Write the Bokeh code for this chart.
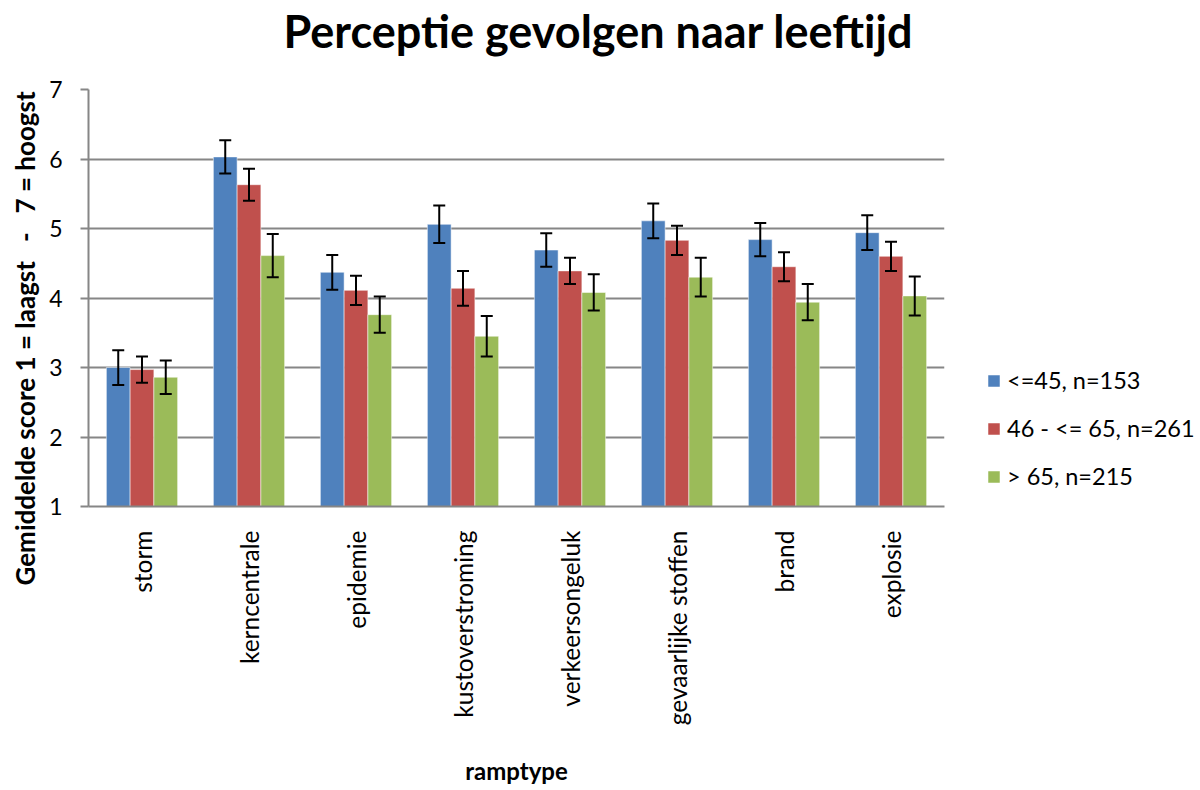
import math
from bokeh.plotting import figure
from bokeh.models import (ColumnDataSource, FactorRange, Range1d, Legend, LegendItem,
                          Whisker, TeeHead, Title, SingleIntervalTicker)
from bokeh.transform import dodge
from bokeh.embed import file_html
from bokeh.resources import INLINE

categories = ["storm", "kerncentrale", "epidemie", "kustoverstroming",
              "verkeersongeluk", "gevaarlijke stoffen", "brand", "explosie"]
series_names = ["<=45, n=153", "46 - <= 65, n=261", "> 65, n=215"]
young = [3.00, 6.03, 4.37, 5.06, 4.69, 5.11, 4.84, 4.94]
middle = [2.97, 5.63, 4.11, 4.14, 4.39, 4.83, 4.45, 4.60]
old = [2.86, 4.61, 3.76, 3.45, 4.08, 4.30, 3.94, 4.03]
young_err = [0.25, 0.24, 0.25, 0.27, 0.24, 0.25, 0.24, 0.25]
middle_err = [0.19, 0.23, 0.21, 0.25, 0.19, 0.21, 0.21, 0.21]
old_err = [0.24, 0.31, 0.26, 0.29, 0.26, 0.28, 0.26, 0.28]
colors = ["#4F81BD", "#C0504D", "#9BBB59"]

FONT = "Lato"

p = figure(x_range=FactorRange(*categories), y_range=Range1d(1, 7),
           frame_width=856, frame_height=417, output_backend="svg", toolbar_location=None,
           min_border_left=85, min_border_top=89, min_border_right=259,
           min_border_bottom=284)
p.outline_line_color = None
p.background_fill_color = "white"
p.border_fill_color = "white"

offsets = [-0.222, 0.0, 0.222]
vals = [young, middle, old]
errs = [young_err, middle_err, old_err]
items = []
for name, v, e, off, col in zip(series_names, vals, errs, offsets, colors):
    src = ColumnDataSource(dict(cat=categories, val=v,
                                upper=[a + b for a, b in zip(v, e)],
                                lower=[a - b for a, b in zip(v, e)]))
    r = p.vbar(x=dodge("cat", off, range=p.x_range), top="val", bottom=1, width=0.222,
               source=src, fill_color=col, line_color="white", line_alpha=0.5, line_width=1)
    w = Whisker(base=dodge("cat", off, range=p.x_range), upper="upper", lower="lower",
                source=src, line_color="black", line_width=2, level="annotation",
                upper_head=TeeHead(size=12, line_color="black", line_width=2),
                lower_head=TeeHead(size=12, line_color="black", line_width=2))
    p.add_layout(w)
    items.append(LegendItem(label=name, renderers=[r]))

# axes
p.yaxis.ticker = SingleIntervalTicker(interval=1)
p.yaxis.major_tick_out = 8
p.yaxis.major_tick_in = 0
p.yaxis.minor_tick_line_color = None
p.yaxis.axis_line_color = "#868686"
p.yaxis.axis_line_width = 2
p.yaxis.major_tick_line_color = "#868686"
p.yaxis.major_tick_line_width = 2
p.yaxis.major_label_text_font = FONT
p.yaxis.major_label_text_font_size = "23px"
p.yaxis.major_label_text_color = "black"
p.yaxis.major_label_standoff = 18

p.xaxis.major_tick_line_color = None
p.xaxis.minor_tick_line_color = None
p.xaxis.axis_line_color = "#868686"
p.xaxis.axis_line_width = 2
p.xaxis.major_label_orientation = math.pi / 2
p.xaxis.major_label_text_font = FONT
p.xaxis.major_label_text_font_size = "24.5px"
p.xaxis.major_label_text_color = "black"
p.xaxis.major_label_standoff = 18
p.xaxis.axis_label = "ramptype"
p.xaxis.axis_label_text_font = FONT
p.xaxis.axis_label_text_font_size = "24px"
p.xaxis.axis_label_text_font_style = "bold"
p.xaxis.axis_label_text_color = "black"
p.xaxis.axis_label_standoff = 28

p.xgrid.grid_line_color = None
p.ygrid.grid_line_color = "#868686"
p.ygrid.grid_line_width = 2

legend = Legend(items=items, location=(42, 16), orientation="vertical",
                label_text_font=FONT, label_text_font_size="23.5px",
                label_text_color="black", glyph_width=15, glyph_height=15,
                label_height=28, label_standoff=6, spacing=20, padding=0, margin=0,
                border_line_color=None, background_fill_alpha=0)
p.add_layout(legend, "right")

# spacer between frame and main title (closest to frame)
spacer = Title(text=" ", text_font_size="1px", standoff=28, text_color="white")
p.add_layout(spacer, "above")
title = Title(text="Perceptie gevolgen naar leeftijd", align="left", offset=195,
              text_font=FONT, text_font_size="45px", text_font_style="bold",
              text_color="black", standoff=2)
p.add_layout(title, "above")

ylab = Title(text="Gemiddelde score 1 = laagst\u00a0\u00a0 -\u00a0\u00a0 7 = hoogst",
             align="left", offset=-79,
             text_font=FONT, text_font_size="26px", text_font_style="bold",
             text_color="black", standoff=12)
p.add_layout(ylab, "left")

open("out.html", "w").write(file_html(p, INLINE))
